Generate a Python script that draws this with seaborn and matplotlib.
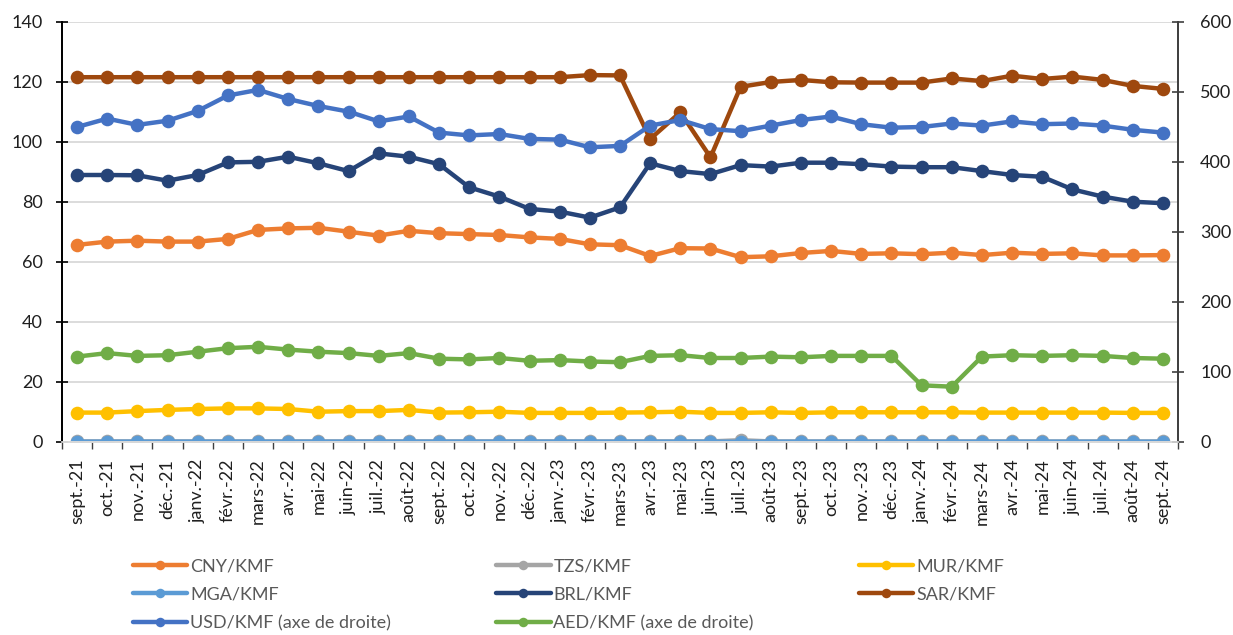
import numpy as np
import matplotlib
matplotlib.use("Agg")
import matplotlib.pyplot as plt
import seaborn as sns

# Monthly exchange rates against the Comorian franc (KMF)
months = ["sept.-21", "oct.-21", "nov.-21", "déc.-21", "janv.-22", "févr.-22", "mars-22",
          "avr.-22", "mai-22", "juin-22", "juil.-22", "août-22", "sept.-22", "oct.-22",
          "nov.-22", "déc.-22", "janv.-23", "févr.-23", "mars-23", "avr.-23", "mai-23",
          "juin-23", "juil.-23", "août-23", "sept.-23", "oct.-23", "nov.-23", "déc.-23",
          "janv.-24", "févr.-24", "mars-24", "avr.-24", "mai-24", "juin-24", "juil.-24",
          "août-24", "sept.-24"]

# Left axis
cny = [65.7, 66.8, 67.1, 66.8, 66.8, 67.7, 70.7, 71.2, 71.4, 70.1, 68.8, 70.4, 69.6,
       69.3, 69.0, 68.2, 67.7, 65.9, 65.6, 62.0, 64.6, 64.5, 61.6, 61.9, 63.0, 63.7,
       62.7, 62.9, 62.6, 63.1, 62.3, 63.1, 62.7, 62.9, 62.2, 62.2, 62.3]
tzs = [0.19, 0.19, 0.19, 0.19, 0.19, 0.19, 0.19, 0.19, 0.19, 0.19, 0.19, 0.19, 0.19,
       0.19, 0.19, 0.19, 0.19, 0.18, 0.18, 0.19, 0.19, 0.19, 0.6, 0.18, 0.18, 0.18,
       0.18, 0.18, 0.18, 0.18, 0.18, 0.17, 0.17, 0.17, 0.17, 0.17, 0.17]
mur = [9.8, 9.8, 10.3, 10.7, 11.0, 11.2, 11.2, 11.0, 10.1, 10.3, 10.3, 10.7, 9.8,
       9.9, 10.1, 9.7, 9.7, 9.7, 9.8, 9.9, 10.1, 9.7, 9.7, 9.9, 9.7, 9.9, 9.9, 9.9,
       9.9, 9.9, 9.8, 9.8, 9.8, 9.8, 9.8, 9.7, 9.7]
mga = [0.11, 0.11, 0.11, 0.11, 0.11, 0.11, 0.11, 0.11, 0.11, 0.11, 0.11, 0.11, 0.11,
       0.11, 0.11, 0.11, 0.11, 0.10, 0.10, 0.10, 0.10, 0.10, 0.10, 0.10, 0.10, 0.10,
       0.10, 0.10, 0.10, 0.10, 0.10, 0.10, 0.10, 0.10, 0.10, 0.10, 0.10]
brl = [89.0, 89.0, 88.9, 87.1, 89.0, 93.2, 93.4, 95.1, 92.9, 90.3, 96.2, 95.1, 92.6,
       84.9, 81.8, 77.7, 76.8, 74.8, 78.2, 92.9, 90.3, 89.3, 92.3, 91.8, 93.1, 93.1,
       92.6, 91.8, 91.6, 91.6, 90.3, 89.0, 88.4, 84.2, 81.8, 80.1, 79.6]
sar = [121.6, 121.6, 121.6, 121.6, 121.6, 121.6, 121.6, 121.6, 121.6, 121.6, 121.6,
       121.6, 121.6, 121.6, 121.6, 121.6, 121.6, 122.3, 122.2, 101.0, 109.9, 94.9,
       118.4, 120.0, 120.7, 119.9, 119.8, 119.8, 119.8, 121.2, 120.3, 122.1, 121.0,
       121.8, 120.7, 118.7, 117.7]

# Right axis
usd = [450, 462, 453, 459, 473, 495, 503, 490, 480, 472, 458, 465, 442, 438, 440, 433,
       432, 421, 423, 452, 460, 447, 444, 452, 460, 465, 454, 449, 450, 455, 452, 458,
       454, 455, 452, 446, 442]
aed = [122, 127, 123, 124, 129, 134, 136, 132, 129, 127, 123, 127, 119, 118, 120, 116,
       117, 115, 114, 123, 124, 120, 120, 122, 121, 123, 123, 123, 81, 79, 122, 124,
       123, 124, 123, 120, 119]

left_series = [
    ("CNY/KMF", cny, "#ED7D31"),
    ("TZS/KMF", tzs, "#A5A5A5"),
    ("MUR/KMF", mur, "#FFC000"),
    ("MGA/KMF", mga, "#5B9BD5"),
    ("BRL/KMF", brl, "#264478"),
    ("SAR/KMF", sar, "#9E480E"),
]
right_series = [
    ("USD/KMF (axe de droite)", usd, "#4472C4"),
    ("AED/KMF (axe de droite)", aed, "#70AD47"),
]

sns.set_theme(style="white")
plt.rcParams["font.family"] = ["Lato", "DejaVu Sans"]

W, H = 1233, 635
fig = plt.figure(figsize=(W / 100, H / 100), dpi=100)
ax = fig.add_axes([62 / W, 1 - 442 / H, (1178 - 62) / W, (442 - 22) / H])
ax2 = ax.twinx()

x = np.arange(len(months))
line_kw = dict(linewidth=3.2, marker="o", markersize=9.8, markeredgewidth=0,
               solid_joinstyle="round", solid_capstyle="round", sort=False)

for name, vals, col in left_series:
    sns.lineplot(x=x, y=vals, ax=ax, color=col, label=name, **line_kw)
for name, vals, col in right_series:
    sns.lineplot(x=x, y=vals, ax=ax2, color=col, label=name, **line_kw)

h1, l1 = ax.get_legend_handles_labels()
h2, l2 = ax2.get_legend_handles_labels()
for a in (ax, ax2):
    if a.get_legend() is not None:
        a.get_legend().remove()

# Axis ranges and gridlines
ax.set_xlim(-0.5, len(months) - 0.5)
ax.set_ylim(0, 140)
ax.set_yticks(np.arange(0, 141, 20))
ax2.set_ylim(0, 600)
ax2.set_yticks(np.arange(0, 601, 100))
ax.yaxis.grid(True, color="#D9D9D9", linewidth=1.3)
ax.xaxis.grid(False)
ax2.grid(False)
ax.set_axisbelow(True)

ax.set_xticks(x)
ax.set_xticklabels(months, rotation=90)
ax.set_xticks(np.arange(-0.5, len(months), 1), minor=True)
ax.tick_params(axis="x", which="major", length=0, pad=12, labelsize=13, labelcolor="#1f1f1f")
ax.tick_params(axis="x", which="minor", bottom=True, length=5, width=1, color="#404040",
               direction="out")
ax.tick_params(axis="y", left=True, length=8, width=1.2, color="black", direction="inout",
               pad=10, labelsize=13, labelcolor="#1f1f1f")
ax2.tick_params(axis="y", right=True, length=8, width=1.2, color="#404040", direction="inout",
                pad=12, labelsize=13, labelcolor="#1f1f1f")
ax.set_xlabel("")
ax.set_ylabel("")
ax2.set_ylabel("")

for a in (ax, ax2):
    a.spines["top"].set_visible(False)
    a.spines["bottom"].set_color("#D9D9D9")
    a.spines["left"].set_color("black")
    a.spines["left"].set_linewidth(1.3)
    a.spines["right"].set_color("#404040")
    a.spines["right"].set_linewidth(1.3)

# Legend: three columns, filled column by column
handles = h1 + h2
labels = l1 + l2
order = ["CNY/KMF", "MGA/KMF", "USD/KMF (axe de droite)",
         "TZS/KMF", "BRL/KMF", "AED/KMF (axe de droite)",
         "MUR/KMF", "SAR/KMF"]
hmap = dict(zip(labels, handles))
leg = fig.legend([hmap[k] for k in order], order, ncol=3, loc="upper left",
                 bbox_to_anchor=(133 / W, 1 - 558 / H), frameon=False,
                 fontsize=13, handlelength=3.0, handletextpad=0.15,
                 columnspacing=5.85, labelspacing=0.7, borderpad=0,
                 borderaxespad=0, markerscale=0.7, labelcolor="#595959")

fig.savefig("out.png", dpi=100)
